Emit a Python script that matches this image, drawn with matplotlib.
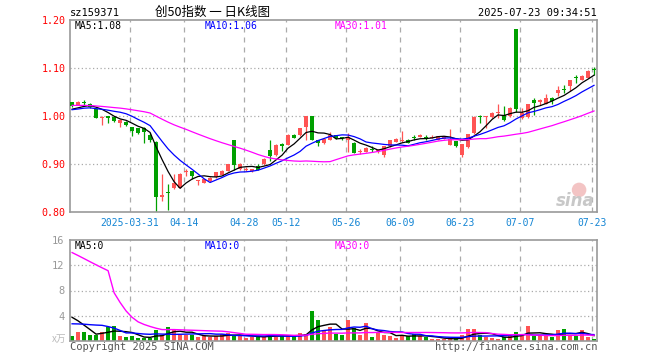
import numpy as np
import pandas as pd
import matplotlib
matplotlib.use("Agg")
import matplotlib.pyplot as plt

# ---------------------------------------------------------------------------
# data: daily K-line of sz159371, 2025-03-17 .. 2025-07-23 (88 sessions)
# ---------------------------------------------------------------------------
opens = [1.029, 1.023, 1.028, 1.026, 1.015, 0.996, 0.999, 0.997, 0.986, 0.988,
         0.977, 0.974, 0.974, 0.961, 0.946, 0.831, 0.842, 0.849, 0.851, 0.884,
         0.885, 0.865, 0.861, 0.864, 0.872, 0.878, 0.886, 0.950, 0.889, 0.888,
         0.886, 0.895, 0.899, 0.930, 0.919, 0.941, 0.940, 0.961, 0.960, 0.977,
         1.000, 0.950, 0.944, 0.951, 0.960, 0.956, 0.949, 0.944, 0.925, 0.926,
         0.931, 0.927, 0.918, 0.937, 0.946, 0.947, 0.951, 0.955, 0.957, 0.956,
         0.955, 0.951, 0.953, 0.940, 0.947, 0.919, 0.935, 0.964, 0.999, 0.997,
         0.997, 1.006, 1.003, 0.999, 1.181, 0.996, 0.997, 1.034, 1.030, 1.025,
         1.038, 1.048, 1.056, 1.062, 1.080, 1.076, 1.080, 1.097]
highs = [1.030, 1.031, 1.033, 1.028, 1.017, 0.999, 1.001, 0.999, 0.993, 0.989,
         0.978, 0.975, 0.978, 0.965, 0.947, 0.879, 0.858, 0.880, 0.881, 0.889,
         0.886, 0.867, 0.869, 0.872, 0.884, 0.887, 0.900, 0.950, 0.902, 0.893,
         0.890, 0.899, 0.913, 0.951, 0.942, 0.943, 0.962, 0.962, 0.976, 1.000,
         1.000, 0.951, 0.955, 0.966, 0.961, 0.957, 0.965, 0.946, 0.932, 0.936,
         0.937, 0.931, 0.938, 0.950, 0.955, 0.968, 0.952, 0.960, 0.962, 0.960,
         0.960, 0.959, 0.959, 0.972, 0.948, 0.942, 0.963, 0.999, 1.003, 1.000,
         1.008, 1.025, 1.021, 1.018, 1.181, 1.017, 1.026, 1.038, 1.035, 1.046,
         1.039, 1.062, 1.065, 1.075, 1.086, 1.085, 1.096, 1.103]
lows = [1.018, 1.022, 1.022, 1.016, 0.995, 0.982, 0.986, 0.987, 0.978, 0.980,
        0.959, 0.963, 0.943, 0.945, 0.800, 0.822, 0.804, 0.848, 0.850, 0.874,
        0.869, 0.856, 0.860, 0.863, 0.871, 0.877, 0.885, 0.888, 0.888, 0.886,
        0.884, 0.887, 0.898, 0.906, 0.917, 0.928, 0.939, 0.954, 0.959, 0.951,
        0.950, 0.937, 0.941, 0.950, 0.952, 0.950, 0.926, 0.922, 0.920, 0.925,
        0.925, 0.922, 0.914, 0.936, 0.945, 0.946, 0.943, 0.950, 0.956, 0.949,
        0.954, 0.950, 0.952, 0.939, 0.935, 0.915, 0.933, 0.963, 0.986, 0.975,
        0.996, 0.996, 0.990, 0.998, 1.008, 0.993, 0.996, 1.003, 1.022, 1.024,
        1.025, 1.041, 1.048, 1.053, 1.069, 1.075, 1.079, 1.086]
closes = [1.021, 1.029, 1.027, 1.019, 0.996, 0.998, 0.996, 0.989, 0.991, 0.981,
          0.968, 0.964, 0.967, 0.949, 0.831, 0.835, 0.840, 0.861, 0.880, 0.886,
          0.876, 0.867, 0.868, 0.871, 0.883, 0.886, 0.899, 0.897, 0.900, 0.890,
          0.889, 0.888, 0.911, 0.916, 0.939, 0.938, 0.961, 0.955, 0.975, 0.999,
          0.951, 0.944, 0.953, 0.960, 0.954, 0.955, 0.957, 0.923, 0.928, 0.934,
          0.930, 0.930, 0.937, 0.949, 0.953, 0.951, 0.944, 0.954, 0.961, 0.955,
          0.957, 0.958, 0.958, 0.953, 0.937, 0.941, 0.962, 0.998, 0.998, 0.999,
          1.007, 1.009, 0.992, 1.017, 1.015, 1.006, 1.025, 1.027, 1.034, 1.038,
          1.032, 1.055, 1.055, 1.074, 1.079, 1.083, 1.093, 1.096]
# volume, unit 万
volumes = [0.75, 1.39, 1.39, 0.90, 1.00, 1.39, 2.24, 2.35, 0.75, 0.64,
           0.75, 0.48, 0.53, 0.48, 1.70, 1.00, 2.19, 1.97, 0.90, 0.90,
           1.00, 0.64, 0.75, 0.64, 0.85, 1.07, 1.20, 0.90, 0.75, 0.50,
           0.64, 0.75, 0.64, 1.17, 0.64, 0.75, 0.90, 0.75, 1.28, 1.17,
           4.75, 3.40, 1.80, 2.24, 1.17, 0.90, 3.30, 2.13, 0.90, 2.88,
           0.64, 1.44, 0.90, 0.75, 0.53, 0.90, 0.75, 1.07, 0.75, 0.64,
           0.37, 0.27, 0.27, 0.37, 0.40, 0.90, 1.87, 1.87, 0.90, 0.64,
           0.53, 0.37, 0.64, 0.75, 1.44, 1.07, 2.35, 0.75, 0.90, 0.75,
           0.64, 1.70, 1.87, 0.90, 0.75, 1.70, 0.64, 0.27]

# sessions before the window, estimated from where the MA lines start
close_hist = [1.025, 1.030, 1.028, 1.022, 1.026, 1.031, 1.027, 1.024, 1.029, 1.026,
              1.023, 1.028, 1.030, 1.025, 1.027, 1.024, 1.029, 1.026, 1.022, 1.028,
              1.014, 1.010, 1.012, 1.013, 1.011, 1.015, 1.012, 1.010, 1.013]
vol_hist = [15.5, 16.0, 15.8, 15.5, 15.7, 16.0, 107.0, 47.0, 41.0, 31.0,
            22.0, 13.0, 10.0, 10.0, 7.5, 2.2, 1.9, 2.0, 2.1, 1.8,
            1.6, 1.8, 1.7, 1.6, 1.8, 4.2, 4.8, 4.4, 4.6]

tick_idx = [10, 19, 29, 36, 46, 55, 65, 75, 87]
tick_labels = ["2025-03-31", "04-14", "04-28", "05-12", "05-26",
               "06-09", "06-23", "07-07", "07-23"]

RED = "#ff5454"
GREEN = "#00a000"
BLUE_TXT = "#1485d4"
MONO = "DejaVu Sans Mono"


def moving(hist, data, n):
    s = pd.Series(list(hist) + list(data)).rolling(n).mean()
    return s.values[len(hist):]


n = len(closes)
x = np.arange(n)
o = np.array(opens)
h = np.array(highs)
l = np.array(lows)
c = np.array(closes)
v = np.array(volumes)
up = c >= o
cols = [RED if u else GREEN for u in up]

fig = plt.figure(figsize=(6.6, 3.6), dpi=100)
W, H = 660.0, 360.0


def box(left, top, right, bottom):
    return [left / W, 1 - bottom / H, (right - left) / W, (bottom - top) / H]


ax = fig.add_axes(box(70, 20, 597, 212))
axv = fig.add_axes(box(70, 240, 597, 341))
xlim = (-0.35, n - 0.5)

for a in (ax, axv):
    a.set_xlim(*xlim)
    for sp in a.spines.values():
        sp.set_color("#999999")
        sp.set_linewidth(1.2)
    for t in tick_idx:
        a.axvline(t - 0.33, color="#aaaaaa", lw=0.9, ls=(0, (4, 4)), zorder=0)
    a.tick_params(length=0)

# --- price panel
ax.set_ylim(0.80, 1.20)
for yv in (0.9, 1.0, 1.1):
    ax.axhline(yv, color="#aaaaaa", lw=0.9, ls=(0, (1, 2)), zorder=0)
ax.vlines(x, l, h, colors=cols, lw=0.9, zorder=2)
body_lo = np.minimum(o, c)
body_h = np.maximum(np.abs(c - o), 0.0015)
ax.bar(x, body_h, bottom=body_lo, width=0.72, color=cols, lw=0, zorder=3)

ma5 = moving(close_hist, closes, 5)
ma10 = moving(close_hist, closes, 10)
ma30 = moving(close_hist, closes, 30)
ax.plot(x, ma5, color="black", lw=0.9, zorder=4)
ax.plot(x, ma10, color="#0000ff", lw=0.9, zorder=4)
ax.plot(x, ma30, color="#ff00ff", lw=0.9, zorder=4)

ax.set_yticks([0.8, 0.9, 1.0, 1.1, 1.2])
ax.set_yticklabels(["0.80", "0.90", "1.00", "1.10", "1.20"], color="red",
                   fontsize=7.2, family=MONO)
ax.tick_params(axis="y", pad=3)
ax.set_xticks([t - 0.33 for t in tick_idx])
ax.set_xticklabels(tick_labels, color=BLUE_TXT, fontsize=7, family=MONO)
ax.tick_params(axis="x", pad=4)

fig.text(75 / W, 1 - 26 / H, f"MA5:{int(ma5[-1] * 100) / 100:.2f}", color="black",
         fontsize=7, family=MONO, va="center")
fig.text(205 / W, 1 - 26 / H, f"MA10:{int(ma10[-1] * 100) / 100:.2f}", color="#0000ff",
         fontsize=7, family=MONO, va="center")
fig.text(335 / W, 1 - 26 / H, f"MA30:{int(ma30[-1] * 100) / 100:.2f}", color="#ff00ff",
         fontsize=7, family=MONO, va="center")

# sina watermark
ax.scatter([0.966], [0.115], s=110, transform=ax.transAxes, color="#f3c4c4",
           edgecolors="none", zorder=1)
ax.text(0.995, 0.055, "sina", transform=ax.transAxes, ha="right", va="center",
        fontsize=12, fontweight="bold", fontstyle="italic", color="#c8c8c8", zorder=1)

# --- volume panel
axv.set_ylim(0, 16)
for yv in (4, 8, 12):
    axv.axhline(yv, color="#aaaaaa", lw=0.9, ls=(0, (1, 2)), zorder=0)
axv.bar(x, v, width=0.8, color=cols, lw=0, zorder=2)
axv.plot(x, moving(vol_hist, volumes, 5), color="black", lw=1.0, zorder=3)
axv.plot(x, moving(vol_hist, volumes, 10), color="#0000ff", lw=1.0, zorder=3)
axv.plot(x, moving(vol_hist, volumes, 30), color="#ff00ff", lw=1.0, zorder=3)
axv.set_yticks([4, 8, 12, 16])
axv.set_yticklabels(["4", "8", "12", "16"], color="#999999", fontsize=7.5, family=MONO)
axv.tick_params(axis="y", pad=4)
axv.set_xticks([])

fig.text(75 / W, 1 - 246 / H, "MA5:0", color="black", fontsize=7, family=MONO, va="center")
fig.text(205 / W, 1 - 246 / H, "MA10:0", color="#0000ff", fontsize=7, family=MONO, va="center")
fig.text(335 / W, 1 - 246 / H, "MA30:0", color="#ff00ff", fontsize=7, family=MONO, va="center")
fig.text(66 / W, 1 - 339 / H, "x万", color="#bbbbbb", fontsize=7, ha="right", va="center",
         family=["Noto Sans CJK SC", "DejaVu Sans"])

# --- header / footer
fig.text(70 / W, 1 - 13 / H, "sz159371", color="black", fontsize=7.5, family=MONO, va="center")
fig.text(213 / W, 1 - 12 / H, "创50指数 一 日K线图", color="black", fontsize=9,
         ha="center", va="center", family=["Noto Sans CJK SC", "DejaVu Sans"])
fig.text(597 / W, 1 - 13 / H, "2025-07-23 09:34:51", color="black", fontsize=7.5,
         family=MONO, ha="right", va="center")
fig.text(70 / W, 1 - 347 / H, "Copyright 2025 SINA.COM", color="#555555", fontsize=7.5,
         family=MONO, va="center")
fig.text(597 / W, 1 - 347 / H, "http://finance.sina.com.cn", color="#555555", fontsize=7.5,
         family=MONO, ha="right", va="center")

fig.savefig("out.png", dpi=100)
